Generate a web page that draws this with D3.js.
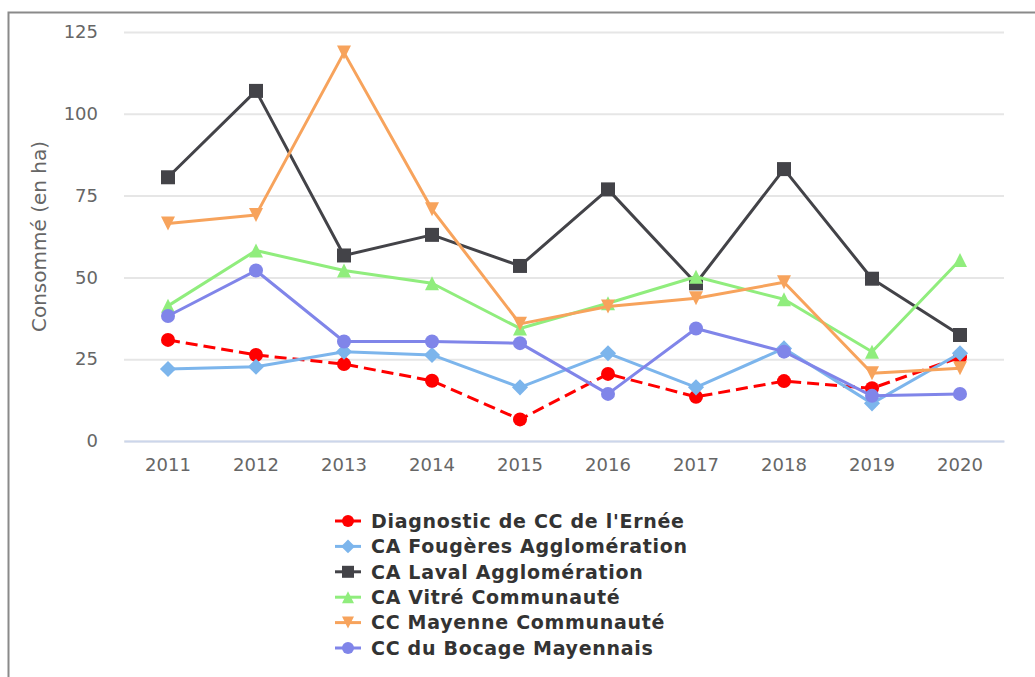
<!DOCTYPE html>
<html>
<head>
<meta charset="utf-8">
<script src="https://cdn.jsdelivr.net/npm/d3@7/dist/d3.min.js"></script>
<style>
  html, body { margin: 0; padding: 0; background: #fff; }
  svg { display: block; }
  svg text { font-family: "DejaVu Sans", "Verdana", sans-serif; }
</style>
</head>
<body>
<div id="chart"></div>
<script>
// Years on the x axis
const years = ["2011", "2012", "2013", "2014", "2015", "2016", "2017", "2018", "2019", "2020"];
const yTicks = [0, 25, 50, 75, 100, 125];

// Consumed area per territory (ha)
const erneeValues    = [30.9, 26.3, 23.5, 18.4, 6.6, 20.5, 13.5, 18.3, 16.1, 25.6];
const fougeresValues = [22.0, 22.7, 27.3, 26.3, 16.4, 26.8, 16.4, 28.3, 11.5, 26.8];
const lavalValues    = [80.6, 107.0, 56.7, 63.0, 53.5, 76.9, 48.2, 83.1, 49.6, 32.4];
const vitreValues    = [41.3, 58.2, 52.1, 48.2, 34.4, 42.1, 50.2, 43.3, 27.3, 55.3];
const mayenneValues  = [66.5, 69.1, 118.7, 70.8, 35.8, 41.1, 43.6, 48.5, 20.7, 22.2];
const bocageValues   = [38.2, 52.1, 30.4, 30.4, 29.9, 14.4, 34.4, 27.3, 13.8, 14.4];

const seriesNames = [
  "Diagnostic de CC de l'Ernée",
  "CA Fougères Agglomération",
  "CA Laval Agglomération",
  "CA Vitré Communauté",
  "CC Mayenne Communauté",
  "CC du Bocage Mayennais"
];

const series = [
  { name: seriesNames[0], values: erneeValues,    color: "#ff0000", symbol: "circle",   dash: "12,6" },
  { name: seriesNames[1], values: fougeresValues, color: "#7cb5ec", symbol: "diamond",  dash: null },
  { name: seriesNames[2], values: lavalValues,    color: "#434348", symbol: "square",   dash: null },
  { name: seriesNames[3], values: vitreValues,    color: "#90ed7d", symbol: "triangle", dash: null },
  { name: seriesNames[4], values: mayenneValues,  color: "#f7a35c", symbol: "triangleDown", dash: null },
  { name: seriesNames[5], values: bocageValues,   color: "#8085e9", symbol: "circle",   dash: null }
];

const FONT = "DejaVu Sans";
const W = 1035, H = 677;
const plot = { left: 124, right: 1004, top: 32, bottom: 441 };

const svg = d3.select("#chart").append("svg")
  .attr("width", W).attr("height", H);

// outer frame
svg.append("rect")
  .attr("x", 8.5).attr("y", 12.5)
  .attr("width", W + 20).attr("height", H + 20)
  .attr("fill", "none").attr("stroke", "#8a8a8a").attr("stroke-width", 2);

const x = d3.scaleBand().domain(years).range([plot.left, plot.right]);
const y = d3.scaleLinear().domain([0, 125]).range([plot.bottom, plot.top]);
const cx = d => x(d) + x.bandwidth() / 2;

// horizontal grid
const yAxis = d3.axisLeft(y).tickValues(yTicks).tickSize(-(plot.right - plot.left)).tickPadding(26);
const gy = svg.append("g").attr("transform", `translate(${plot.left},0)`).call(yAxis)
  .attr("font-family", FONT);
gy.select(".domain").remove();
gy.selectAll(".tick line").attr("stroke", "#e6e6e6").attr("stroke-width", 2);
gy.selectAll(".tick text").attr("fill", "#666").attr("font-family", FONT).style("font-size", "18px");

// x axis
const xAxis = d3.axisBottom(x).tickSize(0).tickPadding(17);
const gx = svg.append("g").attr("transform", `translate(0,${plot.bottom})`).call(xAxis)
  .attr("font-family", FONT);
gx.select(".domain").attr("stroke", "#ccd6eb").attr("stroke-width", 2);
gx.selectAll(".tick text").attr("fill", "#666").attr("font-family", FONT).style("font-size", "18px");

// y axis title
svg.append("text")
  .attr("transform", `translate(46,${(plot.top + plot.bottom) / 2}) rotate(-90)`)
  .attr("text-anchor", "middle")
  .attr("fill", "#666")
  .attr("font-family", FONT)
  .style("font-size", "20px")
  .text("Consommé (en ha)");

function symbolPath(type, size) {
  const s = size;
  switch (type) {
    case "circle":
      return d3.symbol(d3.symbolCircle, Math.PI * s * s)();
    case "square":
      return `M${-s},${-s}H${s}V${s}H${-s}Z`;
    case "diamond":
      return `M0,${-s * 1.15}L${s * 1.15},0L0,${s * 1.15}L${-s * 1.15},0Z`;
    case "triangle":
      return `M0,${-s}L${s},${s}L${-s},${s}Z`;
    case "triangleDown":
      return `M${-s},${-s}L${s},${-s}L0,${s}Z`;
  }
}

const line = d3.line().x((d, i) => cx(years[i])).y(d => y(d));

series.forEach(s => {
  const g = svg.append("g");
  g.append("path")
    .datum(s.values)
    .attr("d", line)
    .attr("fill", "none")
    .attr("stroke", s.color)
    .attr("stroke-width", 3)
    .attr("stroke-linejoin", "round")
    .attr("stroke-dasharray", s.dash);
  g.selectAll("path.pt")
    .data(s.values)
    .join("path")
    .attr("class", "pt")
    .attr("transform", (d, i) => `translate(${cx(years[i])},${y(d)})`)
    .attr("d", symbolPath(s.symbol, 7))
    .attr("fill", s.color);
});

// legend
const lg = svg.append("g").attr("transform", "translate(335,521)");
series.forEach((s, i) => {
  const row = lg.append("g").attr("transform", `translate(0,${i * 25.4})`);
  row.append("line")
    .attr("x1", 0).attr("x2", 26).attr("y1", 0).attr("y2", 0)
    .attr("stroke", s.color).attr("stroke-width", 3);
  row.append("path")
    .attr("transform", "translate(13,0)")
    .attr("d", symbolPath(s.symbol, 6))
    .attr("fill", s.color);
  row.append("text")
    .attr("x", 36).attr("y", 0).attr("dy", "0.36em")
    .attr("fill", "#333")
    .attr("font-family", FONT)
    .style("font-size", "19px")
    .style("letter-spacing", "0.7px")
    .style("font-weight", "bold")
    .text(s.name);
});
</script>
</body>
</html>
